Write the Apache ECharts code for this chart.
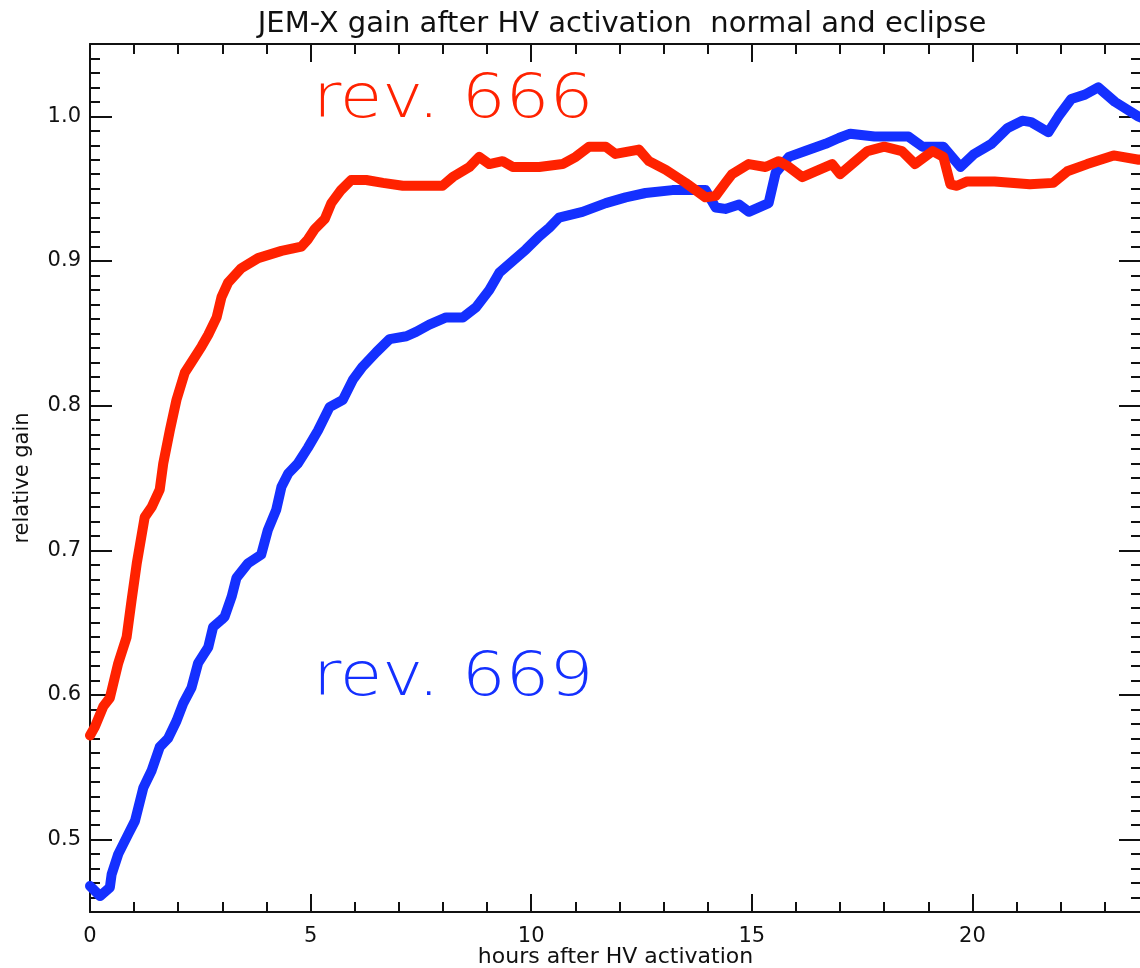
<!DOCTYPE html>
<html>
<head>
<meta charset="utf-8">
<title>JEM-X gain</title>
<script src="https://cdn.jsdelivr.net/npm/echarts@6/dist/echarts.min.js"></script>
<style>
    html, body { margin: 0; padding: 0; overflow: hidden; background: #fff; }
    #chart { width: 1160px; height: 968px; }
</style>
</head>
<body>
<div id="chart"></div>
<script>
// hours after HV activation / relative gain
const redHours = [0.00, 0.11, 0.30, 0.45, 0.64, 0.83, 0.94, 1.06, 1.24, 1.40, 1.58, 1.66, 1.81, 1.96, 2.15, 2.30, 2.53, 2.68, 2.87, 2.98,
    3.13, 3.43, 3.81, 4.34, 4.79, 4.94, 5.09, 5.32, 5.47, 5.69, 5.92, 6.26, 6.64, 7.09, 7.99, 8.22, 8.60, 8.82, 9.05, 9.35,
    9.58, 10.18, 10.71, 11.01, 11.31, 11.69, 11.91, 12.44, 12.67, 13.05, 13.50, 13.95, 14.18, 14.40, 14.55, 14.93, 15.31, 15.61, 15.84, 16.14,
    16.44, 16.82, 17.00, 17.31, 17.62, 18.00, 18.40, 18.70, 19.10, 19.34, 19.50, 19.65, 19.88, 20.50, 21.30, 21.83, 22.15, 22.60, 23.20, 23.77, 24.00];
const redGain = [0.572, 0.578, 0.592, 0.598, 0.622, 0.640, 0.665, 0.691, 0.723, 0.730, 0.742, 0.760, 0.783, 0.804, 0.823, 0.830, 0.841, 0.849, 0.861, 0.875,
    0.885, 0.895, 0.902, 0.907, 0.910, 0.915, 0.922, 0.929, 0.940, 0.949, 0.956, 0.956, 0.954, 0.952, 0.952, 0.958, 0.965, 0.972, 0.967, 0.969,
    0.965, 0.965, 0.967, 0.972, 0.979, 0.979, 0.974, 0.977, 0.969, 0.963, 0.954, 0.944, 0.945, 0.954, 0.960, 0.967, 0.965, 0.969, 0.965, 0.958,
    0.962, 0.967, 0.960, 0.968, 0.976, 0.979, 0.976, 0.967, 0.976, 0.972, 0.953, 0.952, 0.955, 0.955, 0.953, 0.954, 0.962, 0.967, 0.973, 0.970, 0.971];

const blueHours = [0.00, 0.23, 0.45, 0.49, 0.64, 0.87, 1.02, 1.21, 1.40, 1.58, 1.77, 1.96, 2.11, 2.30, 2.45, 2.68, 2.79, 2.98, 3.05, 3.21,
    3.32, 3.58, 3.88, 4.03, 4.22, 4.34, 4.49, 4.71, 4.94, 5.17, 5.43, 5.73, 5.96, 6.18, 6.49, 6.79, 7.17, 7.39, 7.69, 8.07,
    8.45, 8.75, 9.05, 9.28, 9.58, 9.88, 10.18, 10.41, 10.63, 11.16, 11.69, 12.14, 12.59, 13.20, 13.95, 14.18, 14.40, 14.71, 14.93, 15.38,
    15.54, 15.84, 16.21, 16.67, 16.97, 17.23, 17.78, 18.55, 18.87, 19.34, 19.73, 20.04, 20.43, 20.80, 21.13, 21.33, 21.72, 21.95, 22.24, 22.55,
    22.85, 23.23, 23.75, 24.00];
const blueGain = [0.468, 0.461, 0.467, 0.476, 0.490, 0.504, 0.513, 0.536, 0.548, 0.564, 0.570, 0.582, 0.594, 0.605, 0.622, 0.633, 0.647, 0.652, 0.654, 0.668,
    0.681, 0.691, 0.697, 0.714, 0.728, 0.744, 0.753, 0.760, 0.771, 0.783, 0.799, 0.804, 0.818, 0.827, 0.837, 0.846, 0.848, 0.851, 0.856, 0.861,
    0.861, 0.868, 0.880, 0.892, 0.900, 0.908, 0.917, 0.923, 0.930, 0.934, 0.940, 0.944, 0.947, 0.949, 0.949, 0.937, 0.936, 0.939, 0.934, 0.940,
    0.961, 0.972, 0.976, 0.981, 0.985, 0.988, 0.986, 0.986, 0.979, 0.979, 0.965, 0.974, 0.981, 0.992, 0.997, 0.996, 0.989, 1.000, 1.012, 1.015,
    1.020, 1.010, 1.000, 0.997];

const xMajor = [0, 5, 10, 15, 20];
const yMajor = [0.5, 0.6, 0.7, 0.8, 0.9, 1.0];

const xMin = 0, xMax = 23.82;
const yMin = 0.45, yMax = 1.05;

const xMinor = [];
for (let h = 0; h <= 23; h++) xMinor.push(h);
const yMinor = [];
for (let k = 45; k <= 105; k++) yMinor.push(k / 100);

const font = 'DejaVu Sans';
const black = '#111';

function pairs(xs, ys) {
    return xs.map((x, i) => [x, ys[i]]);
}

function axis(kind, position, ticks, len, withLabels) {
    const isX = kind === 'x';
    return {
        type: 'value',
        position: position,
        min: isX ? xMin : yMin,
        max: isX ? xMax : yMax,
        splitLine: { show: false },
        axisLine: { show: withLabels !== undefined, onZero: false, lineStyle: { color: black, width: 2 } },
        axisTick: {
            show: true,
            inside: true,
            length: len,
            customValues: ticks,
            lineStyle: { color: black, width: 2 }
        },
        axisLabel: withLabels ? {
            show: true,
            customValues: ticks,
            margin: isX ? 14 : 9,
            color: black,
            fontFamily: font,
            fontSize: 21,
            formatter: v => isX ? String(v) : v.toFixed(1)
        } : { show: false }
    };
}

const chart = echarts.init(document.getElementById('chart'), null, { renderer: 'canvas' });

const xBottom = axis('x', 'bottom', xMajor, 18, true);
xBottom.name = 'hours after HV activation';
xBottom.nameLocation = 'middle';
xBottom.nameGap = 34;
xBottom.nameMoveOverlap = false;
xBottom.nameTextStyle = { color: black, fontFamily: font, fontSize: 22 };

const yLeft = axis('y', 'left', yMajor, 22, true);
yLeft.name = 'relative gain';
yLeft.nameLocation = 'middle';
yLeft.nameGap = 57;
yLeft.nameMoveOverlap = false;
yLeft.nameTextStyle = { color: black, fontFamily: font, fontSize: 21 };

chart.setOption({
    animation: false,
    backgroundColor: '#fff',
    title: {
        text: 'JEM-X gain after HV activation  normal and eclipse',
        left: 617,
        top: 5,
        textAlign: 'center',
        textStyle: { color: black, fontFamily: font, fontSize: 29, fontWeight: 'normal' }
    },
    grid: { left: 90, top: 44, width: 1051, height: 868, outerBoundsMode: 'none' },
    xAxis: [
        xBottom,
        axis('x', 'bottom', xMinor, 10),
        axis('x', 'top', xMajor, 18, false),
        axis('x', 'top', xMinor, 10)
    ],
    yAxis: [
        yLeft,
        axis('y', 'left', yMinor, 10),
        axis('y', 'right', yMajor, 22, false),
        axis('y', 'right', yMinor, 10)
    ],
    graphic: [
        {
            type: 'text', left: 313, top: 71, scaleX: 1.15,
            style: { text: 'rev. 666', fill: '#ff2200', font: '200 60px "DejaVu Sans"' }
        },
        {
            type: 'text', left: 313, top: 649, scaleX: 1.15,
            style: { text: 'rev. 669', fill: '#1430ff', font: '200 60px "DejaVu Sans"' }
        }
    ],
    series: [
        {
            name: 'rev. 666',
            type: 'line',
            data: pairs(redHours, redGain),
            showSymbol: false,
            lineStyle: { color: '#ff2200', width: 10, join: 'round', cap: 'round' },
            z: 3
        },
        {
            name: 'rev. 669',
            type: 'line',
            data: pairs(blueHours, blueGain),
            showSymbol: false,
            lineStyle: { color: '#1430ff', width: 10, join: 'round', cap: 'round' },
            z: 2
        }
    ]
});
</script>
</body>
</html>
